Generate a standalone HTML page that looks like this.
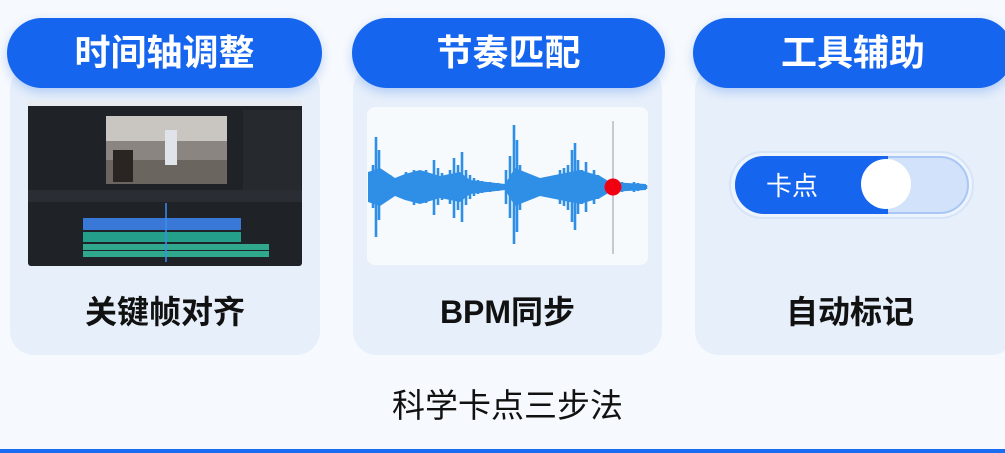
<!DOCTYPE html>
<html><head><meta charset="utf-8"><style>
*{margin:0;padding:0;box-sizing:border-box}
body{width:1005px;height:453px;overflow:hidden;background:#f6f9fd;font-family:"Liberation Sans","Noto Sans CJK SC",sans-serif;position:relative}
.card{position:absolute;top:66px;height:289px;background:#e6effa;border-radius:24px}
.pill{position:absolute;top:18px;height:70px;background:#1565ef;border-radius:35px;color:#fff;font-weight:bold;font-size:36px;text-align:center;line-height:70px;box-shadow:0 4px 10px rgba(21,101,239,.25)}
.lab{position:absolute;top:287px;font-size:32px;font-weight:bold;color:#111;text-align:center}
</style></head><body>
<div class="card" style="left:10px;width:310px"></div>
<div class="card" style="left:353px;width:309px"></div>
<div class="card" style="left:695px;width:320px"></div>
<div class="pill" style="left:7px;width:315px">时间轴调整</div>
<div class="pill" style="left:352px;width:313px">节奏匹配</div>
<div class="pill" style="left:693px;width:320px">工具辅助</div>

<svg style="position:absolute;left:0;top:0" width="1005" height="453">
<rect x="28" y="100" width="274" height="166" rx="3" fill="#1f2227"/>
<rect x="28" y="100" width="274" height="6" fill="#e8ebef"/>
<rect x="106" y="116" width="121" height="68" fill="#8a8580"/>
<rect x="106" y="116" width="121" height="25" fill="#c9c6c2"/>
<rect x="106" y="160" width="121" height="24" fill="#6b6560"/>
<rect x="165" y="130" width="12" height="35" fill="#e0e4ea"/>
<rect x="113" y="150" width="20" height="32" fill="#2a2422"/>
<rect x="243" y="110" width="58" height="80" fill="#26292e"/>
<rect x="28" y="190" width="274" height="12" fill="#2a2d33"/>
<rect x="83" y="218" width="158" height="12" fill="#3a78d8"/>
<rect x="83" y="232" width="158" height="10" fill="#24a08a"/>
<rect x="83" y="244" width="186" height="6" fill="#2fa88e"/>
<rect x="83" y="251" width="186" height="6" fill="#2fa88e"/>
<line x1="166" y1="203" x2="166" y2="262" stroke="#3a8cf0" stroke-width="1.5"/>
<rect x="367" y="107" width="281" height="158" rx="8" fill="#f7fafd"/>
<line x1="613" y1="121" x2="613" y2="254" stroke="#c5cad2" stroke-width="2"/>
<path fill="#2f8fe6" d="M368 172L380 168L395 178L405 174L420 170L440 176L460 172L470 180L505 184L515 168L540 178L560 174L580 170L600 176L610 182L646 184L646 190L610 192L600 198L580 204L560 200L540 196L515 206L505 190L470 194L460 202L440 198L420 204L405 200L395 196L380 206L368 202Z"/>
<path stroke="#2f8fe6" stroke-width="2.6" fill="none" d="
M370 175V199M373 165V208M376 137V237M379 150V220M382 172V200M386 178V194M390 175V198M394 181V193M398 182V191M402 181V193M406 172V200M410 178V197M414 170V205M418 177V196M422 180V193M426 170V203M430 175V199M434 160V215M438 168V205M442 173V200M446 178V195M450 170V204M454 158V218M458 165V210M462 152V222M466 170V205M470 175V199M474 178V196M478 180V194M482 181V193M486 182V192M490 182V192M494 183V191M498 183V191M502 184V190M506 170V204M510 156V218M514 125V244M517 140V232M520 165V210M524 172V202M528 177V196M532 180V194M536 181V193M540 181V193M544 182V192M548 180V194M552 178V196M556 175V199M560 170V204M564 168V206M568 165V210M572 150V222M575 143V230M578 160V214M582 170V204M586 162V212M590 176V198M594 170V204M598 175V199M602 179V195M606 181V193M612 183V191M618 183V191M622 182V192M626 184V190M630 184V190M634 182V192M638 183V191M642 184V190M646 185V189"/>
<circle cx="613" cy="187" r="8.5" fill="#f00010"/>
<rect x="730" y="152" width="243" height="66" rx="33" fill="#eef4fd" stroke="#d6e4f8" stroke-width="2"/>
<rect x="736" y="157" width="232" height="56" rx="28" fill="#d2e2fa" stroke="#a9c7f5" stroke-width="2"/>
<path d="M764 156H888V214H764A29 29 0 0 1 764 156Z" fill="#1565ef"/>
<circle cx="886" cy="184" r="25" fill="#fff"/>
<text x="766" y="195" font-size="26" fill="#fff" font-family="Liberation Sans,Noto Sans CJK SC,sans-serif">卡点</text>
<rect x="0" y="449" width="1005" height="4" fill="#1a6cf2"/>
</svg>

<div class="lab" style="left:10px;width:310px">关键帧对齐</div>
<div class="lab" style="left:353px;width:309px">BPM同步</div>
<div class="lab" style="left:690px;width:320px">自动标记</div>
<div style="position:absolute;left:0;width:1015px;top:379px;text-align:center;font-size:33px;color:#111">科学卡点三步法</div>
</body></html>
